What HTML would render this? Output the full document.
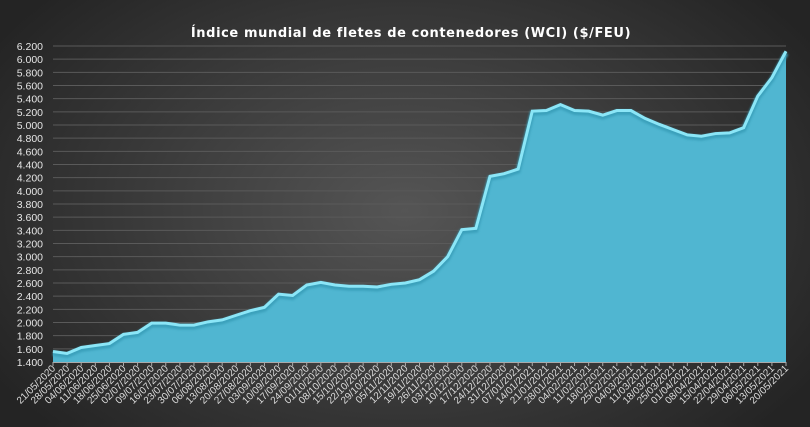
<!DOCTYPE html>
<html><head><meta charset="utf-8"><style>
html,body{margin:0;padding:0;}
body{width:810px;height:422px;overflow:hidden;background:radial-gradient(ellipse 60% 75% at 50% 50%,#555 0%,#3a3a3a 55%,#242424 100%);font-family:"Liberation Sans",sans-serif;}
</style></head><body>
<svg id="c" width="810" height="422" xmlns="http://www.w3.org/2000/svg">
<defs><filter id="g" x="-5%" y="-5%" width="110%" height="110%"><feGaussianBlur stdDeviation="1"/></filter></defs>
<text x="411" y="37" text-anchor="middle" fill="#fff" font-size="13" font-weight="bold" letter-spacing="0.6" font-family="DejaVu Sans, Liberation Sans, sans-serif">Índice mundial de fletes de contenedores (WCI) ($/FEU)</text>
<g id="grid"></g><g id="area"></g><g id="lab"></g>
</svg>
<script>
var v=[1560,1530,1620,1650,1680,1820,1850,1990,1990,1960,1960,2010,2040,2110,2180,2230,2430,2410,2570,2610,2570,2550,2550,2540,2580,2600,2650,2780,3000,3410,3430,4220,4260,4330,5210,5220,5310,5220,5210,5150,5220,5220,5100,5010,4930,4850,4830,4870,4880,4960,5440,5720,6120];
var x0=53,x1=786,yT=46,yB=362;
function Y(a){return yB-(a-1400)/4800*(yB-yT);}
function X(i){return x0+i*(x1-x0)/52;}
var g=document.getElementById('grid'),h='';
for(var k=1400;k<=6200;k+=200){var y=Y(k);h+='<line x1="53" x2="786" y1="'+y+'" y2="'+y+'" stroke="#5a5a5a" stroke-width="1"/>';
var s=(k/1000).toFixed(3);h+='<text x="43" y="'+(y+4)+'" text-anchor="end" fill="#e6e6e6" font-size="10.5">'+s+'</text>';}
g.innerHTML=h;
var p='',d='M'+X(0)+','+yB;
for(var i=0;i<53;i++){p+=(i?' L':'M')+X(i)+','+Y(v[i]);d+=' L'+X(i)+','+Y(v[i]);}
d+=' L'+x1+','+yB+' Z';
document.getElementById('area').innerHTML='<path d="'+d+'" fill="#50b6d1"/><path d="'+p+'" fill="none" stroke="#3aa0bb" stroke-width="5" transform="translate(0,2)" filter="url(#g)"/><path d="'+p+'" fill="none" stroke="#8be6f7" stroke-width="3"/><line x1="53" x2="786" y1="362.5" y2="362.5" stroke="#aaa"/>';
var L='',dt=new Date(2020,4,21);
for(i=0;i<53;i++){var x=X(i);L+='<line x1="'+x+'" x2="'+x+'" y1="362" y2="366" stroke="#aaa"/>';
var dd=new Date(dt.getTime()+i*7*864e5+3600e3*12);var s=('0'+dd.getDate()).slice(-2)+'/'+('0'+(dd.getMonth()+1)).slice(-2)+'/'+dd.getFullYear();
L+='<text transform="translate('+(x+3)+',369) rotate(-45)" text-anchor="end" fill="#dcdcdc" font-size="10">'+s+'</text>';}
document.getElementById('lab').innerHTML=L;
</script>
</body></html>
